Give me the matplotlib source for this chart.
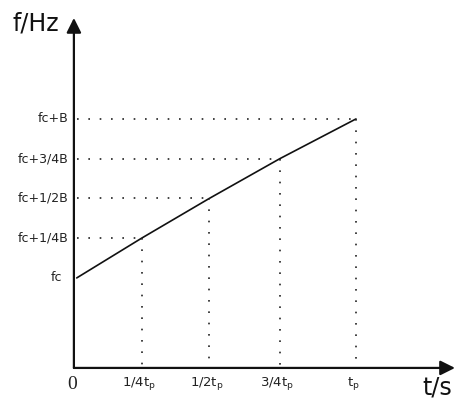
import matplotlib.pyplot as plt

# chirp diagram: frequency rises linearly from fc to fc+B over one pulse tp
level_labels = ['fc', 'fc+1/4B', 'fc+1/2B', 'fc+3/4B', 'fc+B']
level_values = [0.0, 0.25, 0.5, 0.75, 1.0]          # in units of B above fc
time_labels = ['1/4t$_\\mathregular{p}$', '1/2t$_\\mathregular{p}$',
               '3/4t$_\\mathregular{p}$', 't$_\\mathregular{p}$']
time_values = [0.24, 0.48, 0.73, 1.0]               # in units of tp (as drawn)
line_t = [0.01] + time_values
line_f = level_values

fig = plt.figure(figsize=(4.64, 4.01), dpi=100)
ax = fig.add_axes([0, 0, 1, 1])
ax.set_xlim(-0.262, 1.383)
ax.set_ylim(-0.774, 1.748)
ax.axis('off')

y_axis_pos = -0.566   # where the time axis sits
dot = (0, (1, 5.8))
dot_col = '#222222'

# axes with arrow heads
arrow = dict(arrowstyle='-|>', lw=1.6, color='#111111', mutation_scale=22,
             shrinkA=0, shrinkB=0)
ax.annotate('', xy=(1.351, y_axis_pos), xytext=(0, y_axis_pos), arrowprops=arrow)
ax.annotate('', xy=(0, 1.635), xytext=(0, y_axis_pos), arrowprops=arrow)

# sweep line
ax.plot(line_t, line_f, color='#111111', lw=1.2, solid_capstyle='round')

# dotted guides
for t, f in zip(time_values, level_values[1:]):
    ax.plot([0.01, t], [f, f], linestyle=dot, color=dot_col, lw=1.2)
    ax.plot([t, t], [f, y_axis_pos], linestyle=dot, color=dot_col, lw=1.2)

# labels
for lab, f in zip(level_labels, level_values):
    x = -0.04 if lab == 'fc' else -0.018
    ax.text(x, f, lab, ha='right', va='center', fontsize=9, color='#222222')
for lab, t in zip(time_labels, time_values):
    ax.text(t - 0.01, -0.665, lab, ha='center', va='center', fontsize=9.5,
            color='#222222')

ax.text(-0.007, -0.673, '0', ha='center', va='center', fontsize=14,
        family='Liberation Serif', color='#222222')
ax.text(-0.135, 1.6, 'f/Hz', ha='center', va='center', fontsize=17, color='#111111')
ax.text(1.287, -0.69, 't/s', ha='center', va='center', fontsize=17, color='#111111')

fig.savefig('out.png', dpi=100)
